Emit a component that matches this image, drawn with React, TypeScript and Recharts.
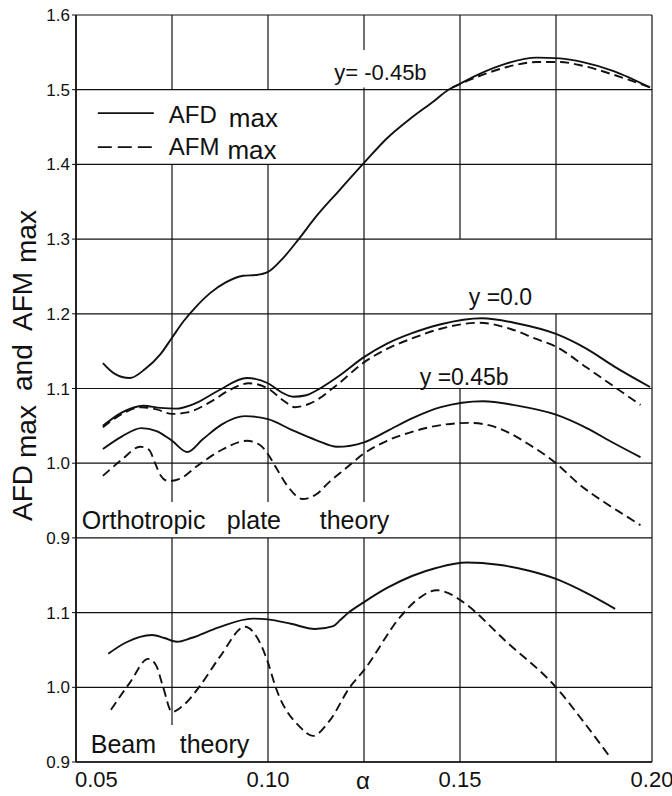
import React from 'react';
import { LineChart, Line, XAxis, YAxis, ReferenceArea, ReferenceLine } from 'recharts';

type Pt = [number, number];

// orthotropic plate theory, y = -0.45b
const afdNeg045: Pt[] = [
  [0.057, 1.134], [0.06, 1.12], [0.064, 1.114], [0.068, 1.126], [0.072, 1.146], [0.075, 1.168],
  [0.078, 1.19], [0.081, 1.208], [0.085, 1.228], [0.089, 1.242], [0.0935, 1.251], [0.097, 1.252],
  [0.1, 1.256], [0.104, 1.275], [0.108, 1.3], [0.1125, 1.33], [0.118, 1.362], [0.125, 1.402],
  [0.131, 1.435], [0.1375, 1.463], [0.143, 1.484], [0.147, 1.5], [0.15, 1.508], [0.155, 1.521],
  [0.162, 1.535], [0.17, 1.543], [0.176, 1.542], [0.182, 1.537], [0.19, 1.525], [0.1995, 1.503],
];
const afmNeg045: Pt[] = [
  [0.148, 1.503], [0.152, 1.512], [0.157, 1.522], [0.162, 1.53], [0.17, 1.537], [0.176, 1.537],
  [0.182, 1.532], [0.19, 1.52], [0.1995, 1.503],
];

// orthotropic plate theory, y = 0.0
const afdZero: Pt[] = [
  [0.057, 1.05], [0.062, 1.068], [0.0675, 1.077], [0.072, 1.074], [0.076, 1.073], [0.081, 1.08],
  [0.087, 1.097], [0.0945, 1.114], [0.1, 1.107], [0.1035, 1.095], [0.1065, 1.089], [0.11, 1.091],
  [0.1125, 1.097], [0.118, 1.115], [0.125, 1.142], [0.131, 1.16], [0.1375, 1.174], [0.145, 1.186],
  [0.1557, 1.194], [0.165, 1.187], [0.175, 1.173], [0.183, 1.153], [0.19, 1.13], [0.1995, 1.102],
];
const afmZero: Pt[] = [
  [0.057, 1.048], [0.062, 1.066], [0.067, 1.075], [0.071, 1.072], [0.075, 1.066], [0.079, 1.068],
  [0.085, 1.082], [0.09, 1.098], [0.095, 1.107], [0.1, 1.1], [0.104, 1.084], [0.107, 1.075],
  [0.111, 1.08], [0.118, 1.105], [0.125, 1.135], [0.131, 1.153], [0.1375, 1.167], [0.145, 1.18],
  [0.155, 1.188], [0.163, 1.18], [0.17, 1.166], [0.175, 1.156], [0.183, 1.128], [0.19, 1.103],
  [0.197, 1.078],
];

// orthotropic plate theory, y = 0.45b
const afdPos045: Pt[] = [
  [0.057, 1.019], [0.062, 1.036], [0.067, 1.047], [0.071, 1.043], [0.075, 1.03], [0.079, 1.015],
  [0.083, 1.032], [0.088, 1.052], [0.094, 1.063], [0.1, 1.059], [0.106, 1.045], [0.1125, 1.031],
  [0.118, 1.022], [0.125, 1.028], [0.131, 1.043], [0.1375, 1.06], [0.145, 1.075], [0.156, 1.083],
  [0.165, 1.077], [0.175, 1.065], [0.183, 1.047], [0.19, 1.027], [0.197, 1.008],
];
const afmPos045: Pt[] = [
  [0.057, 0.983], [0.062, 1.005], [0.0667, 1.022], [0.069, 1.018], [0.0706, 1.0], [0.072, 0.984],
  [0.074, 0.976], [0.077, 0.979], [0.082, 0.998], [0.088, 1.018], [0.0945, 1.03], [0.098, 1.024],
  [0.1, 1.012], [0.102, 0.995], [0.105, 0.97], [0.109, 0.952], [0.1125, 0.958], [0.116, 0.975],
  [0.12, 0.992], [0.125, 1.013], [0.131, 1.03], [0.1375, 1.042], [0.145, 1.051], [0.1526, 1.054],
  [0.16, 1.047], [0.168, 1.025], [0.175, 1.0], [0.181, 0.972], [0.1875, 0.948], [0.193, 0.93],
  [0.197, 0.917],
];

// beam theory
const afdBeam: Pt[] = [
  [0.0584, 1.045], [0.063, 1.06], [0.0698, 1.07], [0.073, 1.066], [0.0763, 1.061], [0.08, 1.066],
  [0.087, 1.08], [0.096, 1.092], [0.1, 1.091], [0.106, 1.085], [0.1122, 1.078], [0.117, 1.082],
  [0.1188, 1.09], [0.121, 1.1], [0.125, 1.114], [0.131, 1.133], [0.1375, 1.149], [0.144, 1.16],
  [0.1518, 1.167], [0.16, 1.164], [0.168, 1.156], [0.175, 1.145], [0.183, 1.126], [0.1904, 1.105],
];
const afmBeam: Pt[] = [
  [0.0591, 0.97], [0.064, 1.006], [0.0688, 1.038], [0.0708, 1.03], [0.0727, 1.0], [0.075, 0.967],
  [0.078, 0.976], [0.0823, 1.002], [0.0875, 1.041], [0.094, 1.081], [0.097, 1.068], [0.1, 1.033],
  [0.102, 1.0], [0.1083, 0.947], [0.1117, 0.935], [0.116, 0.955], [0.1213, 1.0], [0.125, 1.023],
  [0.1344, 1.094], [0.139, 1.118], [0.144, 1.13], [0.147, 1.126], [0.15, 1.117], [0.1625, 1.059],
  [0.175, 1.0], [0.182, 0.955], [0.189, 0.907],
];

const xLabels = [0.05, 0.1, 0.15, 0.2];
const xGrid = [0.05, 0.075, 0.1, 0.125, 0.15, 0.175, 0.2];
const plateTicks = [0.9, 1.0, 1.1, 1.2, 1.3, 1.4, 1.5, 1.6];
const beamTicks = [0.9, 1.0, 1.1];

// the beam panel sits under the plate panel on the same axis, shifted down by 0.3
const BEAM_SHIFT = 0.3;
const yTicks = [...beamTicks.map((t) => +(t - BEAM_SHIFT).toFixed(2)), ...plateTicks];
const yLabel = (v: number) => (v < 0.85 ? (v + BEAM_SHIFT).toFixed(1) : v.toFixed(1));

const rows = (pts: Pt[], shift = 0) => pts.map(([a, v]) => ({ a, v: +(v - shift).toFixed(4) }));

// vertical grid pieces; the gaps are where the drawing has its white label boxes
const vGaps: Record<string, [number, number][]> = {
  '0.075': [[0.6, 0.6495], [0.9, 0.948], [1.4, 1.5]],
  '0.1': [[0.9, 0.948], [1.4, 1.5]],
  '0.125': [[0.9, 0.948], [1.503, 1.553]],
  '0.15': [[1.1, 1.3]],
  '0.175': [[1.2, 1.3]],
};
const vSpans = (x: number): [number, number][] => {
  const gaps = vGaps[String(x)] ?? [];
  const out: [number, number][] = [];
  let lo = 0.6;
  gaps.forEach(([a, b]) => {
    if (a > lo) out.push([lo, a]);
    lo = b;
  });
  if (lo < 1.6) out.push([lo, 1.6]);
  return out;
};

const FONT = '"Liberation Sans", Arial, sans-serif';
const INK = '#111';
const txt = { fontFamily: FONT, fill: INK } as const;

const XTick = ({ x, y, payload }: any) => {
  const v = payload.value;
  if (!xLabels.some((t) => Math.abs(t - v) < 1e-9)) return null;
  const first = Math.abs(v - 0.05) < 1e-9;
  return (
    <text x={first ? x - 1 : x} y={y + 17} textAnchor={first ? 'start' : 'middle'} fontSize={22} {...txt}>
      {v.toFixed(2)}
    </text>
  );
};

const YTitle = () => (
  <text transform="translate(32,521) rotate(-90)" fontSize={28} {...txt}>
    <tspan x={0} y={0}>AFD</tspan>
    <tspan x={63} y={4}>max</tspan>
    <tspan x={130} y={0}>and</tspan>
    <tspan x={190} y={0}>AFM</tspan>
    <tspan x={258} y={4}>max</tspan>
  </text>
);

const legendLabel = ({ viewBox }: any) => {
  const { x, y } = viewBox;
  return (
    <g>
      <line x1={x + 21} x2={x + 77} y1={y + 22} y2={y + 22} stroke={INK} strokeWidth={1.8} />
      <line x1={x + 21} x2={x + 77} y1={y + 56} y2={y + 56} stroke={INK} strokeWidth={1.8} strokeDasharray="14 6" />
      <text x={x + 92} y={y + 32} fontSize={24} {...txt}>
        AFD<tspan dx={12} dy={4} fontSize={26}>max</tspan>
      </text>
      <text x={x + 92} y={y + 64} fontSize={24} {...txt}>
        AFM<tspan dx={8} dy={4} fontSize={26}>max</tspan>
      </text>
    </g>
  );
};

const textLabel = (s: string, dx: number, dy: number, size = 23) => ({ viewBox }: any) => (
  <text x={viewBox.x + dx} y={viewBox.y + dy} fontSize={size} {...txt}>{s}</text>
);

const plateLabel = ({ viewBox }: any) => {
  const { x, y, height } = viewBox;
  return (
    <text y={y + height - 7} fontSize={25} {...txt}>
      <tspan x={x + 5}>Orthotropic</tspan>
      <tspan x={x + 150}>plate</tspan>
      <tspan x={x + 243}>theory</tspan>
    </text>
  );
};

const beamLabel = ({ viewBox }: any) => {
  const { x, y, height } = viewBox;
  return (
    <text y={y + height - 8} fontSize={25} {...txt}>
      <tspan x={x + 14}>Beam</tspan>
      <tspan x={x + 103}>theory</tspan>
    </text>
  );
};

const anchor = { fill: 'none', fillOpacity: 0, stroke: 'none', ifOverflow: 'visible' as const };

export default function App() {
  const lineProps = { type: 'monotone' as const, dataKey: 'v', stroke: INK, strokeWidth: 1.9, dot: false, isAnimationActive: false };
  const dash = '9 5';
  return (
    <div style={{ position: 'absolute', left: 0, top: 0, width: 672, height: 796, background: '#fff' }}>
      <LineChart width={672} height={796} margin={{ top: 15, right: 20, bottom: 0, left: 0 }}>
        <XAxis
          type="number"
          dataKey="a"
          domain={[0.05, 0.2]}
          ticks={xGrid}
          height={34}
          tick={<XTick />}
          tickLine={false}
          axisLine={{ stroke: INK, strokeWidth: 1.6 }}
          allowDataOverflow
          label={({ viewBox }: any) => (
            <text x={viewBox.x + viewBox.width / 2 - 1} y={viewBox.y + viewBox.height - 7} textAnchor="middle" fontSize={24} {...txt}>
              α
            </text>
          )}
        />
        <YAxis
          type="number"
          domain={[0.6, 1.6]}
          ticks={yTicks}
          width={76}
          tickSize={4}
          tickMargin={2}
          tickFormatter={yLabel}
          tick={{ fontSize: 17, fill: INK, fontFamily: FONT }}
          tickLine={{ stroke: INK }}
          axisLine={{ stroke: INK, strokeWidth: 1.6 }}
          allowDataOverflow
          label={<YTitle />}
        />

        {yTicks.map((t) => (
          <ReferenceLine key={`h${t}`} segment={[{ x: 0.05, y: t }, { x: 0.2, y: t }]} stroke={INK} strokeWidth={1.2} />
        ))}
        {xGrid.flatMap((x) =>
          vSpans(x).map(([a, b]) => (
            <ReferenceLine key={`v${x}-${a}`} segment={[{ x, y: a }, { x, y: b }]} stroke={INK} strokeWidth={1.2} />
          )),
        )}

        <ReferenceArea x1={0.0502} x2={0.1224} y1={1.402} y2={1.498} {...anchor} label={legendLabel} />
        <ReferenceArea x1={0.117} x2={0.145} y1={1.503} y2={1.553} {...anchor} label={textLabel('y= -0.45b', 1, 30, 22)} />
        <ReferenceArea x1={0.1252} x2={0.1998} y1={1.202} y2={1.298} {...anchor} label={textLabel('y =0.0', 104, 64)} />
        <ReferenceArea x1={0.139} x2={0.166} y1={1.103} y2={1.14} {...anchor} label={textLabel('y =0.45b', 2, 26)} />
        <ReferenceArea x1={0.0502} x2={0.1333} y1={0.902} y2={0.948} {...anchor} label={plateLabel} />
        <ReferenceArea x1={0.0502} x2={0.0966} y1={0.602} y2={0.6495} {...anchor} label={beamLabel} />

        <Line data={rows(afdNeg045)} {...lineProps} />
        <Line data={rows(afmNeg045)} {...lineProps} strokeDasharray={dash} />
        <Line data={rows(afdZero)} {...lineProps} />
        <Line data={rows(afmZero)} {...lineProps} strokeDasharray={dash} />
        <Line data={rows(afdPos045)} {...lineProps} />
        <Line data={rows(afmPos045)} {...lineProps} strokeDasharray={dash} />
        <Line data={rows(afdBeam, BEAM_SHIFT)} {...lineProps} />
        <Line data={rows(afmBeam, BEAM_SHIFT)} {...lineProps} strokeDasharray={dash} />
      </LineChart>
    </div>
  );
}
